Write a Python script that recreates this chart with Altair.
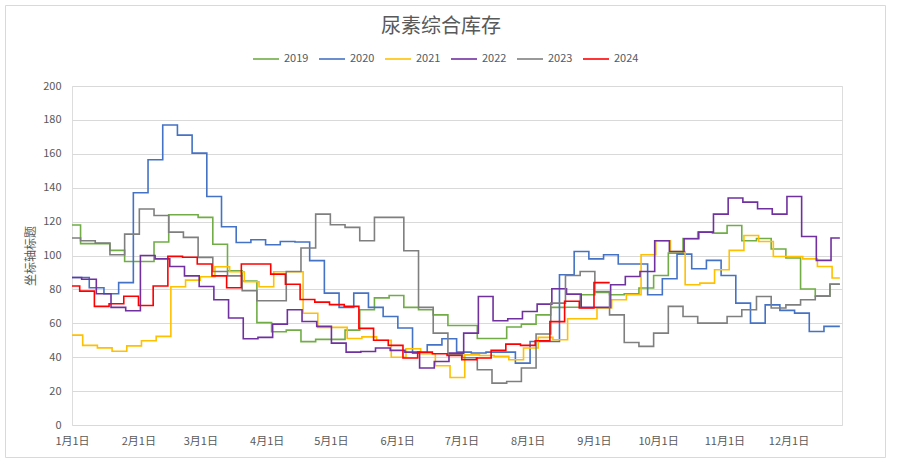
import altair as alt
import pandas as pd

title_text = "尿素综合库存"
y_title = "坐标轴标题"
years = ["2019", "2020", "2021", "2022", "2023", "2024"]
colors = ["#70AD47", "#4472C4", "#FFC000", "#7030A0", "#7F7F7F", "#FF0000"]
widths = [1.6, 1.6, 1.6, 1.6, 1.6, 3.6]

# x axis: day of year (month starts) and their labels
month_days = [0, 31, 60, 91, 121, 152, 182, 213, 244, 274, 305, 335]
month_labels = ["1月1日", "2月1日", "3月1日", "4月1日", "5月1日", "6月1日",
                "7月1日", "8月1日", "9月1日", "10月1日", "11月1日", "12月1日"]

# weekly readings; first value holds until the first weekly update
week_len = 6.87
first_update = {"2019": 4.0, "2020": 1.2, "2021": 5.0, "2022": 4.5, "2023": 4.0, "2024": 3.6}
last_day = {"2019": 359, "2020": 359, "2021": 359, "2022": 359, "2023": 359, "2024": 251.4}

v2019 = [118, 107, 107, 103, 96.5, 96.5, 108, 124, 124, 122.5, 106.6, 91, 85, 60.4, 55, 56,
         49.2, 50.5, 50.5, 56, 68, 75, 76.4, 69.4, 68, 65, 58.7, 58.7, 51, 51, 57.8, 59.5,
         65, 69.4, 69.5, 76.8, 78.2, 76.8, 77.4, 80.8, 88.2, 101.4, 110, 113.8, 113.2, 117.7,
         108.7, 110, 103.8, 98.5, 80.2, 76.2, 83.1]
v2020 = [87, 87, 81, 77.4, 84, 137, 156.5, 177, 171, 160.4, 134.8, 117, 107.7, 109.3, 106.3,
         108.3, 108, 97, 77.8, 69.4, 77.8, 69.4, 64, 57.2, 42.4, 47.3, 50.9, 43, 42.5, 43, 43,
         36.5, 49.3, 49.3, 88.6, 102.4, 98, 100.4, 95, 95, 76.8, 86.3, 100.8, 92.2, 97.1, 88.2,
         71.9, 60.1, 70.9, 67.6, 66, 55.2, 58.2, 58.2]
v2021 = [53, 47, 45.5, 43.5, 46.7, 49.7, 52.3, 81.6, 85.5, 87.5, 93.4, 90.4, 84.5, 81.6, 90.4,
         90.4, 65.9, 57.6, 57.6, 51, 52, 50, 40, 45, 42, 35, 28, 41.4, 41, 40.5, 38.5, 45.4,
         51.7, 50.3, 62.7, 62.7, 69, 73.9, 76.8, 100.4, 108.7, 102.4, 82.7, 83.7, 91.6, 103,
         111.8, 108.3, 99.4, 99.4, 98, 93.5, 86.7]
v2022 = [87, 86, 77.4, 69.4, 67.4, 100, 98, 93.5, 88, 81.7, 73.9, 63.1, 50.9, 51.7, 59.5, 68,
         61.1, 58.2, 48.3, 43, 43.4, 45.4, 44, 43, 33.6, 37.5, 42.4, 54.2, 75.8, 61.5, 62.7,
         67, 71.3, 80.4, 77.2, 69.4, 69.4, 82.7, 87.6, 90.6, 108.7, 102.4, 109.9, 113.8, 124.4,
         133.9, 131.5, 127.6, 124.4, 134.8, 111.2, 97.1, 110.3]
v2023 = [110.3, 108.7, 107.3, 100.4, 112.6, 127.4, 123.6, 113.8, 110.7, 98.9, 90.6, 88, 79.2,
         73.3, 73.3, 90.6, 104.4, 124.4, 118.1, 116.6, 108.7, 122.5, 122.5, 102.8, 69.4, 54.2,
         41.4, 39.7, 32.6, 24.7, 25.7, 33.6, 53.7, 71.9, 88.2, 90.6, 78.8, 65, 48.7, 46.4, 54.2,
         70, 64, 60.1, 60.1, 64, 68, 75.8, 69, 70.9, 73.9, 76, 83]
v2024 = [82, 79, 70, 71.5, 76, 70.5, 82, 99.5, 99, 95, 88, 81, 95, 95, 89, 83, 74, 72.5, 71,
         70, 57, 50, 47, 39.5, 43, 42, 41, 38.5, 39.5, 44, 47.7, 47, 49.7, 61, 73, 69, 84]

series = {"2019": v2019, "2020": v2020, "2021": v2021, "2022": v2022, "2023": v2023, "2024": v2024}

rows = []
for y in years:
    vals = series[y]
    p = first_update[y]
    end = last_day[y]
    rows.append({"year": y, "day": 0.0, "value": vals[0]})
    for i in range(1, len(vals)):
        d = p + week_len * (i - 1)
        if d < end:
            rows.append({"year": y, "day": d, "value": vals[i]})
    rows.append({"year": y, "day": end, "value": rows[-1]["value"]})
df = pd.DataFrame(rows)

FONT = "Noto Sans CJK SC"
TXT = "#595959"

label_expr = "[" + ",".join("'%s'" % s for s in month_labels) + "][indexof([" + \
    ",".join(str(d) for d in month_days) + "], datum.value)]"

legend_kw = dict(orient="none", legendX=180, legendY=-41, direction="horizontal",
                 symbolType="stroke", symbolSize=676, labelFont=FONT, labelFontSize=11,
                 labelColor=TXT, columnPadding=6, labelOffset=4, padding=0, title=None)

lines = alt.Chart(df).mark_line(interpolate="step-after").encode(
    x=alt.X("day:Q",
            scale=alt.Scale(domain=[0, 360], nice=False, zero=False),
            axis=alt.Axis(values=month_days, labelExpr=label_expr, grid=False, domain=False,
                          ticks=False, labelPadding=10, labelColor=TXT, labelFontSize=11,
                          labelFont=FONT, title=None, labelFlush=False)),
    y=alt.Y("value:Q",
            scale=alt.Scale(domain=[0, 200], nice=False),
            axis=alt.Axis(values=list(range(0, 201, 20)), grid=True, gridColor="#D9D9D9",
                          gridWidth=1, domain=False, ticks=False, labelPadding=11,
                          labelColor=TXT, labelFontSize=11, labelFont=FONT,
                          title=y_title, titleFont=FONT, titleFontSize=12,
                          titleFontWeight="normal", titleColor=TXT, titleX=-42, titleY=169.5,
                          titleAlign="center", titleBaseline="middle")),
    color=alt.Color("year:N", scale=alt.Scale(domain=years, range=colors),
                    legend=alt.Legend(**legend_kw)),
    strokeWidth=alt.StrokeWidth("year:N", scale=alt.Scale(domain=years, range=widths),
                                legend=alt.Legend(**legend_kw)),
    order=alt.Order("day:Q"),
)

frame = alt.Chart(alt.Data(values=[{"k": 1}])).mark_rect(
    fill=None, stroke="#D9D9D9", strokeWidth=1
).encode(x=alt.value(-66.5), x2=alt.value(813.5), y=alt.value(-80.5), y2=alt.value(371.5))

heading = alt.Chart(alt.Data(values=[{"t": title_text}])).mark_text(
    font=FONT, fontSize=20, color=TXT, align="center", baseline="middle"
).encode(text="t:N", x=alt.value(369), y=alt.value(-59))

chart = alt.layer(frame, lines, heading).properties(
    width=770, height=339,
    padding={"left": 72, "top": 86, "right": 55, "bottom": 39},
    autosize=alt.AutoSizeParams(type="none"),
).configure_view(stroke=None).configure(background="white")

chart.save("out.html", embed_options={"renderer": "svg", "actions": False})
